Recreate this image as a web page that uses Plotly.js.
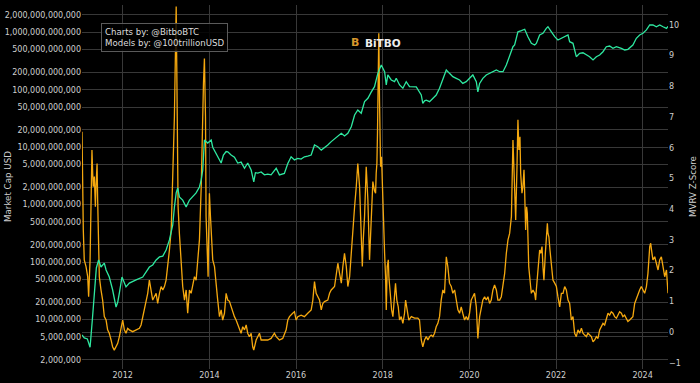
<!DOCTYPE html>
<html>
<head>
<meta charset="utf-8">
<script src="https://cdn.plot.ly/plotly-3.0.1.min.js"></script>
<style>
  html, body { margin: 0; padding: 0; background: #000; }
  #chart { width: 700px; height: 383px; }
</style>
</head>
<body>
<div id="chart"></div>
<script>
// ---- Data (dates as decimal years) ----
const mcapYears = [
  2011.062,2011.115,2011.185,2011.247,2011.300,2011.346,2011.393,2011.446,2011.501,2011.577,
  2011.617,2011.693,2011.769,2011.848,2011.885,2011.924,2011.986,2012.079,2012.155,2012.309,
  2012.462,2012.617,2012.693,2012.771,2012.848,2012.924,2013.002,2013.079,2013.155,2013.194,
  2013.233,2013.270,2013.309,2013.386,2013.464,2013.540,2013.617,2013.695,2013.771,2013.811,
  2013.848,2013.864,2013.887,2013.963,2014.042,2014.079,2014.157,2014.233,2014.272,2014.326,
  2014.388,2014.425,2014.503,2014.580,2014.656,2014.734,2014.811,2014.887,2014.965,2015.025,
  2015.065,2015.118,2015.196,2015.273,2015.349,2015.427,2015.543,2015.619,2015.734,2015.811,
  2015.889,2015.965,2016.042,2016.120,2016.196,2016.273,2016.351,2016.427,2016.503,2016.582,
  2016.658,2016.734,2016.813,2016.889,2016.965,2017.044,2017.120,2017.196,2017.275,2017.351,
  2017.427,2017.506,2017.582,2017.658,2017.737,2017.813,2017.852,2017.889,2017.968,2018.044,
  2018.083,2018.120,2018.199,2018.275,2018.314,2018.390,2018.467,2018.545,2018.621,2018.697,
  2018.776,2018.891,2018.928,2018.968,2019.007,2019.083,2019.159,2019.238,2019.314,2019.390,
  2019.469,2019.545,2019.621,2019.700,2019.776,2019.852,2019.931,2020.007,2020.083,2020.162,
  2020.199,2020.238,2020.314,2020.393,2020.469,2020.545,2020.624,2020.700,2020.776,2020.855,
  2020.931,2021.007,2021.046,2021.122,2021.201,2021.277,2021.353,2021.432,2021.508,2021.547,
  2021.623,2021.700,2021.778,2021.815,2021.894,2021.970,2022.046,2022.125,2022.201,2022.277,
  2022.316,2022.393,2022.471,2022.547,2022.624,2022.702,2022.778,2022.855,2022.933,2023.009,
  2023.085,2023.164,2023.240,2023.316,2023.395,2023.510,2023.587,2023.663,2023.778,2023.857,
  2023.933,2024.009,2024.088,2024.164,2024.240,2024.319,2024.395,2024.471,2024.550,2024.587
];
const mcapUSD = [
  5.4e6,4.8e6,4.6e6,3.3e6,9.8e6,3.27e7,7.9e7,1.09e8,8.2e7,9.6e7,
  7.3e7,5.5e7,3.3e7,1.65e7,2.0e7,2.9e7,5.5e7,3.7e7,4.3e7,4.9e7,
  5.5e7,8.2e7,8.9e7,1.09e8,1.23e8,1.27e8,1.62e8,2.43e8,4.43e8,9.1e8,
  1.6e9,1.95e9,1.36e9,1.2e9,9.1e8,1.2e9,1.36e9,1.6e9,2.03e9,2.7e9,
  4.0e9,7.3e9,1.33e10,1.18e10,1.33e10,1.0e10,7.9e9,6.0e9,5.3e9,7.3e9,
  8.4e9,8.3e9,7.3e9,6.7e9,5.3e9,5.5e9,4.3e9,5.3e9,4.0e9,2.5e9,
  3.6e9,3.55e9,3.7e9,3.3e9,3.4e9,3.3e9,4.3e9,3.3e9,3.5e9,5.2e9,
  6.8e9,6.0e9,6.4e9,6.2e9,6.8e9,7.0e9,7.3e9,1.09e10,1.02e10,8.9e9,
  9.7e9,1.09e10,1.25e10,1.39e10,1.52e10,1.75e10,1.57e10,1.75e10,2.27e10,3.63e10,
  4.44e10,3.89e10,6.2e10,7.1e10,9.2e10,1.13e11,1.48e11,1.93e11,2.7e11,2.06e11,
  1.21e11,1.81e11,1.48e11,1.38e11,1.58e11,1.21e11,1.06e11,1.38e11,1.13e11,1.13e11,
  1.12e11,8.1e10,5.8e10,6.4e10,6.6e10,6.2e10,7.1e10,8.1e10,1.06e11,1.58e11,
  2.21e11,1.93e11,1.69e11,1.58e11,1.48e11,1.29e11,1.38e11,1.58e11,1.81e11,1.38e11,
  9.2e10,1.29e11,1.58e11,1.81e11,1.93e11,2.06e11,2.21e11,2.06e11,2.06e11,2.7e11,
  3.76e11,5.61e11,6.01e11,1.02e12,1.07e12,1.13e12,8.38e11,6.43e11,6.01e11,6.4e11,
  8.98e11,9.6e11,1.17e12,1.25e12,1.02e12,8.38e11,7.35e11,7.86e11,8.38e11,8.98e11,
  6.86e11,6.43e11,3.76e11,4.31e11,4.4e11,4.02e11,3.76e11,3.3e11,3.76e11,4.02e11,
  4.59e11,5.61e11,5.77e11,5.26e11,5.61e11,5.26e11,4.92e11,5.05e11,6.01e11,7.86e11,
  8.98e11,9.6e11,1.1e12,1.34e12,1.34e12,1.25e12,1.34e12,1.25e12,1.17e12,1.27e12
];

const mvrvYears = [
  2011.062,2011.076,2011.092,2011.115,2011.155,2011.192,2011.215,2011.247,2011.270,2011.293,
  2011.307,2011.323,2011.346,2011.370,2011.386,2011.409,2011.423,2011.439,2011.462,2011.501,
  2011.538,2011.577,2011.617,2011.654,2011.693,2011.732,2011.769,2011.808,2011.848,2011.885,
  2011.924,2011.963,2012.000,2012.039,2012.079,2012.115,2012.155,2012.231,2012.309,2012.386,
  2012.425,2012.462,2012.540,2012.577,2012.617,2012.656,2012.693,2012.771,2012.808,2012.848,
  2012.887,2012.924,2012.963,2013.002,2013.039,2013.079,2013.118,2013.141,2013.171,2013.194,
  2013.217,2013.233,2013.247,2013.263,2013.279,2013.309,2013.349,2013.386,2013.425,2013.464,
  2013.501,2013.540,2013.580,2013.617,2013.656,2013.695,2013.732,2013.771,2013.811,2013.834,
  2013.864,2013.887,2013.910,2013.926,2013.949,2013.972,2013.986,2014.002,2014.025,2014.048,
  2014.079,2014.118,2014.157,2014.194,2014.233,2014.273,2014.309,2014.349,2014.388,2014.425,
  2014.464,2014.503,2014.540,2014.580,2014.619,2014.656,2014.695,2014.734,2014.771,2014.811,
  2014.850,2014.887,2014.926,2014.965,2015.002,2015.025,2015.081,2015.118,2015.157,2015.196,
  2015.273,2015.349,2015.427,2015.503,2015.543,2015.619,2015.695,2015.774,2015.811,2015.850,
  2015.926,2015.965,2016.005,2016.042,2016.120,2016.196,2016.273,2016.351,2016.388,2016.427,
  2016.467,2016.503,2016.543,2016.582,2016.619,2016.658,2016.734,2016.774,2016.813,2016.889,
  2016.928,2016.965,2017.005,2017.044,2017.081,2017.120,2017.159,2017.196,2017.236,2017.275,
  2017.312,2017.351,2017.390,2017.427,2017.467,2017.506,2017.529,2017.552,2017.582,2017.621,
  2017.658,2017.697,2017.737,2017.774,2017.813,2017.836,2017.852,2017.866,2017.882,2017.898,
  2017.912,2017.928,2017.951,2017.974,2017.991,2018.005,2018.021,2018.044,2018.067,2018.083,
  2018.106,2018.129,2018.143,2018.176,2018.206,2018.236,2018.275,2018.298,2018.328,2018.360,
  2018.390,2018.430,2018.467,2018.506,2018.529,2018.559,2018.605,2018.661,2018.737,2018.813,
  2018.852,2018.891,2018.928,2018.968,2019.007,2019.044,2019.083,2019.122,2019.159,2019.199,
  2019.238,2019.275,2019.314,2019.353,2019.390,2019.430,2019.469,2019.506,2019.545,2019.584,
  2019.621,2019.661,2019.700,2019.737,2019.776,2019.815,2019.852,2019.891,2019.931,2019.968,
  2020.007,2020.046,2020.083,2020.122,2020.162,2020.199,2020.238,2020.277,2020.314,2020.353,
  2020.393,2020.430,2020.469,2020.508,2020.545,2020.584,2020.624,2020.661,2020.700,2020.739,
  2020.776,2020.815,2020.855,2020.891,2020.931,2020.970,2021.007,2021.046,2021.069,2021.099,
  2021.122,2021.145,2021.169,2021.185,2021.215,2021.238,2021.261,2021.277,2021.300,2021.323,
  2021.339,2021.370,2021.393,2021.416,2021.432,2021.469,2021.508,2021.531,2021.547,2021.570,
  2021.600,2021.624,2021.647,2021.677,2021.700,2021.723,2021.755,2021.778,2021.801,2021.815,
  2021.838,2021.861,2021.894,2021.931,2021.970,2022.009,2022.046,2022.085,2022.125,2022.162,
  2022.201,2022.240,2022.277,2022.316,2022.356,2022.393,2022.432,2022.471,2022.508,2022.547,
  2022.587,2022.624,2022.663,2022.702,2022.739,2022.817,2022.855,2022.894,2022.933,2022.970,
  2023.009,2023.048,2023.085,2023.125,2023.164,2023.201,2023.240,2023.279,2023.316,2023.356,
  2023.395,2023.432,2023.471,2023.510,2023.547,2023.586,2023.626,2023.663,2023.702,2023.741,
  2023.778,2023.818,2023.857,2023.894,2023.933,2023.972,2024.009,2024.048,2024.088,2024.125,
  2024.164,2024.187,2024.217,2024.240,2024.279,2024.319,2024.356,2024.395,2024.434,2024.471,
  2024.510,2024.550,2024.573,2024.587
];
const mvrvZ = [
  6.52,4.30,3.32,2.35,2.13,1.80,1.15,2.35,4.30,5.93,
  5.17,4.73,5.06,4.08,4.73,5.49,4.30,2.67,1.80,1.37,
  1.04,0.50,0.39,0.07,-0.04,-0.26,-0.48,-0.59,-0.48,-0.37,
  -0.15,0.17,0.39,0.07,-0.04,0.12,0.07,0.01,0.07,0.12,
  0.23,0.50,1.04,1.26,1.69,1.37,1.04,1.26,0.93,1.26,
  1.48,1.37,1.48,1.69,2.13,2.67,3.32,4.30,5.38,7.01,
  9.19,10.6,8.64,5.93,4.08,3.21,2.35,1.48,1.04,1.37,
  0.61,1.37,1.26,1.48,1.80,1.69,2.35,3.00,4.73,6.47,
  8.10,8.91,7.01,3.76,2.13,1.80,3.21,4.52,3.76,3.00,
  2.35,2.13,1.48,1.04,0.50,0.72,0.39,0.61,1.26,1.04,
  1.00,0.82,0.61,0.50,0.39,0.23,0.07,-0.04,0.17,0.07,
  0.23,-0.04,-0.15,-0.04,-0.48,-0.59,-0.26,-0.15,-0.04,-0.26,
  -0.26,-0.26,-0.21,-0.04,-0.15,-0.26,-0.21,0.07,0.39,0.50,
  0.61,0.66,0.39,0.50,0.55,0.50,0.61,0.72,1.04,1.64,
  1.26,1.15,1.04,0.72,0.93,0.99,1.04,1.26,1.37,1.48,
  1.80,2.24,1.91,1.59,2.13,2.56,2.13,1.48,1.80,2.67,
  3.54,4.08,4.73,5.49,4.73,2.67,2.13,3.00,3.76,5.38,
  4.30,2.35,4.00,4.90,4.60,4.52,5.17,5.49,6.47,8.10,
  9.73,7.56,5.38,5.71,4.84,4.08,3.76,2.56,1.80,0.72,
  2.13,2.35,1.80,1.04,0.72,0.50,1.04,1.59,1.04,0.82,
  0.39,0.50,0.28,0.61,1.04,0.72,0.39,0.50,0.45,0.45,
  0.39,-0.26,-0.48,-0.26,-0.15,-0.26,-0.15,-0.10,-0.15,-0.04,
  0.17,0.28,0.50,1.04,1.37,1.26,2.45,2.13,1.59,1.48,
  1.26,1.37,1.04,0.72,0.61,0.82,0.61,0.39,0.50,0.39,
  0.61,1.04,1.15,1.26,0.82,-0.21,0.50,0.82,1.04,1.15,
  1.04,1.15,0.93,1.04,1.37,1.53,1.37,1.04,1.04,1.15,
  1.48,1.91,2.56,3.00,3.21,3.76,6.25,4.73,3.65,5.38,
  6.91,5.93,6.36,5.17,4.52,4.73,5.28,4.52,3.32,4.08,
  3.87,2.13,1.59,1.48,1.26,1.37,1.26,1.04,1.37,1.91,
  2.45,2.67,2.56,2.78,2.13,1.69,2.56,3.21,3.54,3.21,
  3.10,2.67,2.13,1.69,1.59,1.48,1.15,0.82,1.26,1.26,
  1.48,1.37,1.04,0.93,0.39,0.50,-0.04,-0.15,0.07,-0.04,
  0.12,-0.04,-0.10,-0.15,-0.04,-0.15,-0.32,-0.26,-0.15,-0.21,
  0.07,0.17,0.28,0.23,0.39,0.61,0.55,0.66,0.61,0.50,
  0.45,0.55,0.66,0.61,0.50,0.55,0.45,0.34,0.39,0.45,
  0.50,0.93,1.10,1.26,1.37,1.48,1.37,1.26,1.48,1.91,
  2.78,2.89,2.56,2.35,2.45,2.24,2.02,2.35,2.45,2.13,
  1.80,2.02,1.69,1.26
];

// Left axis ticks
const capTickVals = [2e6,5e6,1e7,2e7,5e7,1e8,2e8,5e8,1e9,2e9,5e9,1e10,2e10,5e10,1e11,2e11,5e11,1e12,2e12];
const capTickText = ["2,000,000","5,000,000","10,000,000","20,000,000","50,000,000","100,000,000",
  "200,000,000","500,000,000","1,000,000,000","2,000,000,000","5,000,000,000","10,000,000,000",
  "20,000,000,000","50,000,000,000","100,000,000,000","200,000,000,000","500,000,000,000",
  "1,000,000,000,000","2,000,000,000,000"];

function yearToDate(y) {
  const yr = Math.floor(y);
  const s = Date.UTC(yr, 0, 1), e = Date.UTC(yr + 1, 0, 1);
  return new Date(s + (y - yr) * (e - s)).toISOString().slice(0, 10);
}

const FONT = 'DejaVu Sans, Verdana, sans-serif';
const TXT = '#cfcfcf';
const GRID = '#383838';

const traces = [
  {
    x: mvrvYears.map(yearToDate), y: mvrvZ, type: 'scatter', mode: 'lines',
    name: 'MVRV Z-Score', yaxis: 'y',
    line: { color: '#f5a80f', width: 1.3 }
  },
  {
    x: mcapYears.map(yearToDate), y: mcapUSD, type: 'scatter', mode: 'lines',
    name: 'Market Cap', yaxis: 'y2',
    line: { color: '#2ee8a0', width: 1.3 }
  }
];

const layout = {
  width: 700, height: 383,
  margin: { l: 82, r: 32, t: 5, b: 14 },
  paper_bgcolor: '#000', plot_bgcolor: '#000',
  showlegend: false,
  font: { family: FONT, color: TXT, size: 8 },
  xaxis: {
    type: 'date', autorange: true,
    tickformat: '%Y', dtick: 'M24', tick0: '2012-01-01',
    showgrid: true, gridcolor: GRID, gridwidth: 1,
    zeroline: false, showline: false, ticks: '',
    tickfont: { family: FONT, size: 8, color: TXT }
  },
  yaxis: {
    side: 'right', range: [-1.205, 10.65], dtick: 1, tick0: 0,
    showgrid: false, zeroline: true, zerolinecolor: GRID, zerolinewidth: 1,
    showline: false, ticks: '',
    tickfont: { family: FONT, size: 8, color: TXT }
  },
  yaxis2: {
    type: 'log', overlaying: 'y', side: 'left',
    range: [6.139, 12.475],
    tickvals: capTickVals, ticktext: capTickText,
    showgrid: true, gridcolor: GRID, gridwidth: 1,
    zeroline: false, showline: false, ticks: '',
    tickfont: { family: FONT, size: 8, color: TXT }
  },
  annotations: [
    { text: 'Market Cap USD', xref: 'paper', yref: 'paper', x: 0, y: 0.5,
      xshift: -74, textangle: -90, showarrow: false, xanchor: 'center', yanchor: 'middle',
      font: { family: FONT, size: 8.7, color: TXT } },
    { text: 'MVRV Z-Score', xref: 'paper', yref: 'paper', x: 1, y: 0.5,
      xshift: 25, textangle: -90, showarrow: false, xanchor: 'center', yanchor: 'middle',
      font: { family: FONT, size: 8.7, color: TXT } },
    { text: 'Charts by: @BitboBTC<br>Models by: @100trillionUSD',
      xref: 'paper', yref: 'paper', x: 0.032, y: 0.95, xanchor: 'left', yanchor: 'top',
      align: 'left', showarrow: false, bgcolor: 'rgba(0,0,0,0.85)',
      bordercolor: '#5a5a5a', borderwidth: 1, borderpad: 3,
      font: { family: FONT, size: 8.6, color: '#dcdcdc' } },
    { text: '<b>B</b>', xref: 'paper', yref: 'paper', x: 0.466, y: 0.896,
      xanchor: 'center', yanchor: 'middle', showarrow: false,
      font: { family: FONT, size: 11, color: '#d8972c' } },
    { text: '<b>BiTBO</b>', xref: 'paper', yref: 'paper', x: 0.479, y: 0.896,
      xanchor: 'left', yanchor: 'middle', showarrow: false,
      font: { family: FONT, size: 10.5, color: '#eeeeee' } }
  ]
};

Plotly.newPlot('chart', traces, layout, { displayModeBar: false, staticPlot: true });
</script>
</body>
</html>
